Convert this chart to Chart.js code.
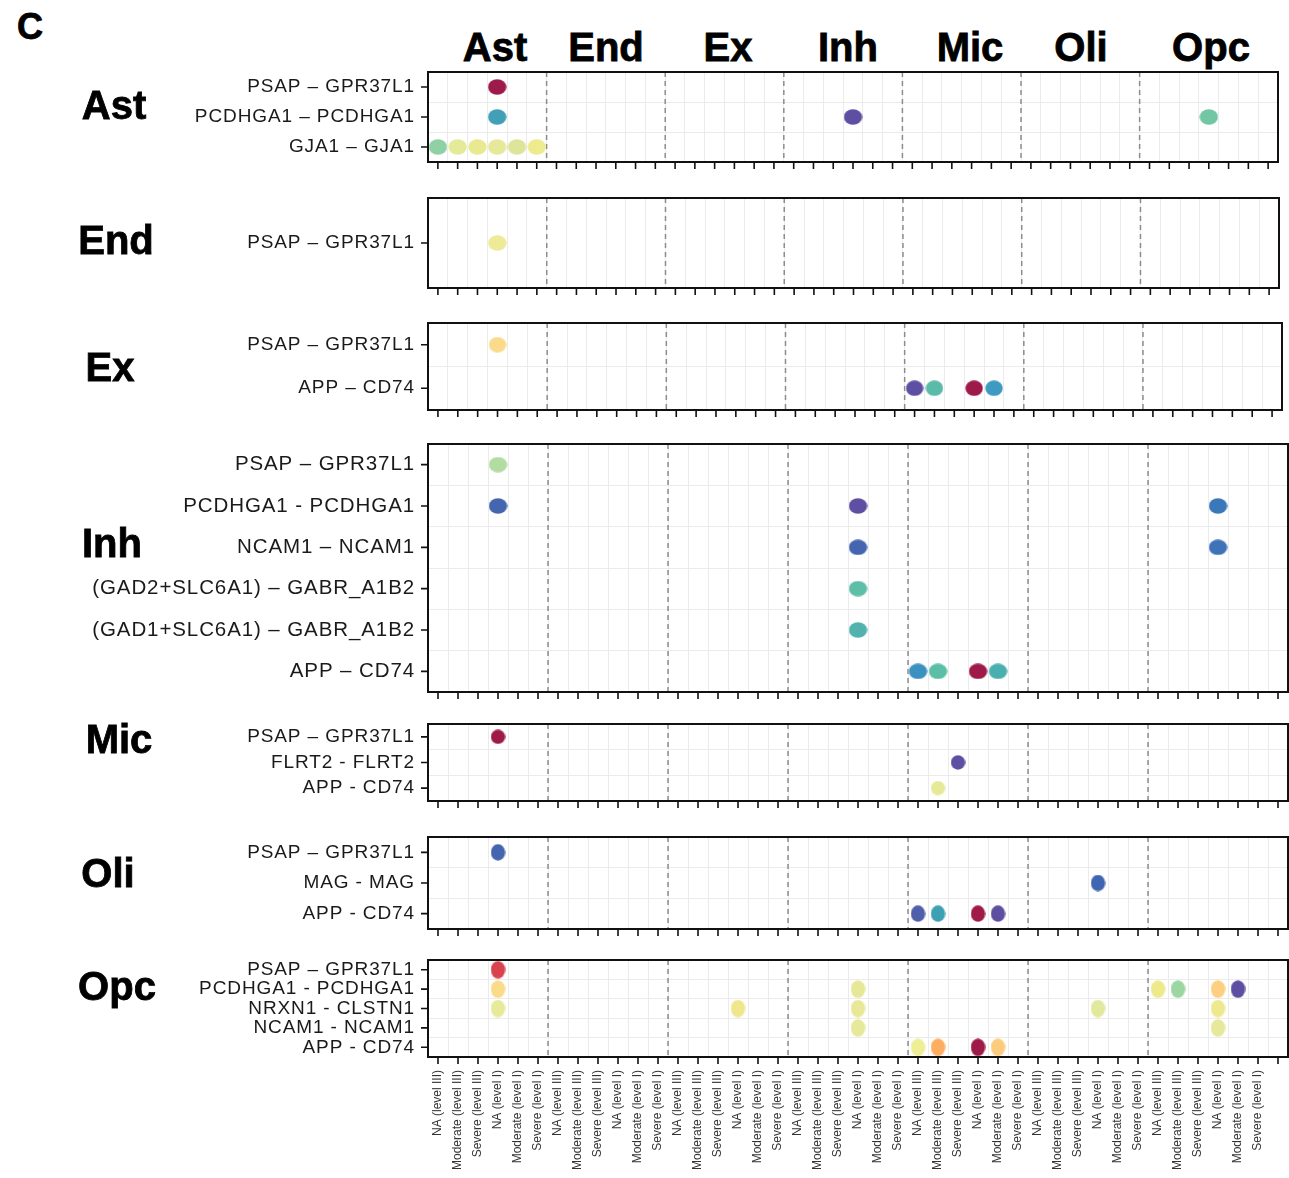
<!DOCTYPE html>
<html>
<head>
<meta charset="utf-8">
<script src="https://cdn.jsdelivr.net/npm/chart.js@4.4.1/dist/chart.umd.min.js"></script>
<style>
  body { margin: 0; background: #fff; }
  #wrap { position: relative; width: 1289px; height: 1178px; overflow: hidden; }
  .big { position: absolute; transform: translate(-50%, -50%); font-family: 'Liberation Sans', Arial, sans-serif;
         font-weight: bold; font-size: 40px; line-height: 1; color: #000; -webkit-text-stroke: 0.8px #000; white-space: nowrap; }
  .panel { position: absolute; left: 0; width: 1289px; }
</style>
</head>
<body>
<div id="wrap"></div>
<script>
document.addEventListener('DOMContentLoaded', () => {
    const wrap = document.getElementById('wrap');

    // x axis: 7 cell-type groups x 6 conditions (+ one empty slot at the end)
    const groups = ['Ast', 'End', 'Ex', 'Inh', 'Mic', 'Oli', 'Opc'];
    const conditions = ['NA (level III)', 'Moderate (level III)', 'Severe (level III)',
                        'NA (level I)', 'Moderate (level I)', 'Severe (level I)'];

    // rows and dots per sender panel: [row, receiver group, condition, colour]
    const astRows = ['PSAP – GPR37L1', 'PCDHGA1 – PCDHGA1', 'GJA1 – GJA1'];
    const astDots = [
        ['PSAP – GPR37L1', 'Ast', 'NA (level I)', '#9E1A4A'],
        ['PCDHGA1 – PCDHGA1', 'Ast', 'NA (level I)', '#419FB6'],
        ['PCDHGA1 – PCDHGA1', 'Inh', 'NA (level I)', '#5E4FA2'],
        ['PCDHGA1 – PCDHGA1', 'Opc', 'NA (level I)', '#72C6A3'],
        ['GJA1 – GJA1', 'Ast', 'NA (level III)', '#8FD1A5'],
        ['GJA1 – GJA1', 'Ast', 'Moderate (level III)', '#E4EA9A'],
        ['GJA1 – GJA1', 'Ast', 'Severe (level III)', '#E9E992'],
        ['GJA1 – GJA1', 'Ast', 'NA (level I)', '#E6E89A'],
        ['GJA1 – GJA1', 'Ast', 'Moderate (level I)', '#DDE59A'],
        ['GJA1 – GJA1', 'Ast', 'Severe (level I)', '#EEEA8E']
    ];

    const endRows = ['PSAP – GPR37L1'];
    const endDots = [
        ['PSAP – GPR37L1', 'Ast', 'NA (level I)', '#EEEA98']
    ];

    const exRows = ['PSAP – GPR37L1', 'APP – CD74'];
    const exDots = [
        ['PSAP – GPR37L1', 'Ast', 'NA (level I)', '#FBDB8B'],
        ['APP – CD74', 'Mic', 'NA (level III)', '#5E4FA2'],
        ['APP – CD74', 'Mic', 'Moderate (level III)', '#5BBAA8'],
        ['APP – CD74', 'Mic', 'NA (level I)', '#9E1A48'],
        ['APP – CD74', 'Mic', 'Moderate (level I)', '#3E9AC0']
    ];

    const inhRows = ['PSAP – GPR37L1', 'PCDHGA1 - PCDHGA1', 'NCAM1 – NCAM1',
                     '(GAD2+SLC6A1) – GABR_A1B2', '(GAD1+SLC6A1) – GABR_A1B2', 'APP – CD74'];
    const inhDots = [
        ['PSAP – GPR37L1', 'Ast', 'NA (level I)', '#B2DCA2'],
        ['PCDHGA1 - PCDHGA1', 'Ast', 'NA (level I)', '#4466AF'],
        ['PCDHGA1 - PCDHGA1', 'Inh', 'NA (level I)', '#5E4FA2'],
        ['PCDHGA1 - PCDHGA1', 'Opc', 'NA (level I)', '#3A78BA'],
        ['NCAM1 – NCAM1', 'Inh', 'NA (level I)', '#4466B0'],
        ['NCAM1 – NCAM1', 'Opc', 'NA (level I)', '#3E73B8'],
        ['(GAD2+SLC6A1) – GABR_A1B2', 'Inh', 'NA (level I)', '#5EBFA8'],
        ['(GAD1+SLC6A1) – GABR_A1B2', 'Inh', 'NA (level I)', '#52B3AE'],
        ['APP – CD74', 'Mic', 'NA (level III)', '#3B92C0'],
        ['APP – CD74', 'Mic', 'Moderate (level III)', '#5BBFA8'],
        ['APP – CD74', 'Mic', 'NA (level I)', '#9E1A48'],
        ['APP – CD74', 'Mic', 'Moderate (level I)', '#4BAFAF']
    ];

    const micRows = ['PSAP – GPR37L1', 'FLRT2 - FLRT2', 'APP - CD74'];
    const micDots = [
        ['PSAP – GPR37L1', 'Ast', 'NA (level I)', '#A01A48'],
        ['FLRT2 - FLRT2', 'Mic', 'Severe (level III)', '#5E4FA2'],
        ['APP - CD74', 'Mic', 'Moderate (level III)', '#E6EA98']
    ];

    const oliRows = ['PSAP – GPR37L1', 'MAG - MAG', 'APP - CD74'];
    const oliDots = [
        ['PSAP – GPR37L1', 'Ast', 'NA (level I)', '#4466AF'],
        ['MAG - MAG', 'Oli', 'NA (level I)', '#3F66B0'],
        ['APP - CD74', 'Mic', 'NA (level III)', '#4F5FAC'],
        ['APP - CD74', 'Mic', 'Moderate (level III)', '#3EA0B3'],
        ['APP - CD74', 'Mic', 'NA (level I)', '#A01A48'],
        ['APP - CD74', 'Mic', 'Moderate (level I)', '#5E4FA2']
    ];

    const opcRows = ['PSAP – GPR37L1', 'PCDHGA1 - PCDHGA1', 'NRXN1 - CLSTN1', 'NCAM1 - NCAM1', 'APP - CD74'];
    const opcDots = [
        ['PSAP – GPR37L1', 'Ast', 'NA (level I)', '#D8434E'],
        ['PCDHGA1 - PCDHGA1', 'Ast', 'NA (level I)', '#FADB8A'],
        ['PCDHGA1 - PCDHGA1', 'Inh', 'NA (level I)', '#E6E898'],
        ['PCDHGA1 - PCDHGA1', 'Opc', 'NA (level III)', '#EEEA8C'],
        ['PCDHGA1 - PCDHGA1', 'Opc', 'Moderate (level III)', '#9CD6A2'],
        ['PCDHGA1 - PCDHGA1', 'Opc', 'NA (level I)', '#FDCF80'],
        ['PCDHGA1 - PCDHGA1', 'Opc', 'Moderate (level I)', '#5E4FA2'],
        ['NRXN1 - CLSTN1', 'Ast', 'NA (level I)', '#E6EA9A'],
        ['NRXN1 - CLSTN1', 'Ex', 'NA (level I)', '#EFE78E'],
        ['NRXN1 - CLSTN1', 'Inh', 'NA (level I)', '#E8E898'],
        ['NRXN1 - CLSTN1', 'Oli', 'NA (level I)', '#E2E89C'],
        ['NRXN1 - CLSTN1', 'Opc', 'NA (level I)', '#EEE88E'],
        ['NCAM1 - NCAM1', 'Inh', 'NA (level I)', '#E6E89A'],
        ['NCAM1 - NCAM1', 'Opc', 'NA (level I)', '#E6E89A'],
        ['APP - CD74', 'Mic', 'NA (level III)', '#EEEE96'],
        ['APP - CD74', 'Mic', 'Moderate (level III)', '#FDAE61'],
        ['APP - CD74', 'Mic', 'NA (level I)', '#9E1A48'],
        ['APP - CD74', 'Mic', 'Moderate (level I)', '#FDCB7D']
    ];

    const panelNames = ['Ast', 'End', 'Ex', 'Inh', 'Mic', 'Oli', 'Opc'];
    const panelRows = [astRows, endRows, exRows, inhRows, micRows, oliRows, opcRows];
    const panelDots = [astDots, endDots, exDots, inhDots, micDots, oliDots, opcDots];

    // layout of each panel on the page (plot area edges, dot size)
    const boxes = [
        { top: 72,  bottom: 162,  right: 1278, dw: 19, dh: 16, font: 19, lx: 114, ly: 105 },
        { top: 198, bottom: 288,  right: 1279, dw: 19, dh: 16, font: 19, lx: 116, ly: 240 },
        { top: 323, bottom: 410,  right: 1282, dw: 18, dh: 16, font: 19, lx: 110, ly: 367 },
        { top: 444, bottom: 692,  right: 1288, dw: 19, dh: 16, font: 20.5, lx: 112, ly: 543 },
        { top: 724, bottom: 801,  right: 1288, dw: 15, dh: 15, font: 19, lx: 119, ly: 739 },
        { top: 837, bottom: 929,  right: 1288, dw: 15, dh: 17, font: 19, lx: 108, ly: 873 },
        { top: 960, bottom: 1057, right: 1288, dw: 15, dh: 18, font: 19, lx: 117, ly: 986 }
    ];
    const headerX = [495, 606, 728, 848, 970, 1081, 1211];

    const xKeys = [];
    groups.forEach(g => conditions.forEach(c => xKeys.push(g + '|' + c)));
    xKeys.push('end|');

    const addText = (txt, x, y, size) => {
        const d = document.createElement('div');
        d.className = 'big';
        d.textContent = txt;
        d.style.left = x + 'px';
        d.style.top = y + 'px';
        if (size) d.style.fontSize = size + 'px';
        wrap.appendChild(d);
    };
    addText('C', 30, 27, 36);
    groups.forEach((g, i) => addText(g, headerX[i], 47));

    const dotCache = {};
    const dot = (color, w, h) => {
        const key = color + w + 'x' + h;
        if (dotCache[key]) return dotCache[key];
        const c = document.createElement('canvas');
        c.width = w; c.height = h;
        const g = c.getContext('2d');
        g.fillStyle = color;
        g.beginPath();
        g.ellipse(w / 2, h / 2, w / 2 - 0.3, h / 2 - 0.3, 0, 0, Math.PI * 2);
        g.fill();
        dotCache[key] = c;
        return c;
    };

    // frame, dashed group separators and tick marks
    const panelDecor = {
        id: 'panelDecor',
        beforeDatasetsDraw(chart) {
            const { ctx, chartArea: a, scales: { x } } = chart;
            ctx.save();
            ctx.strokeStyle = '#8c8c8c';
            ctx.lineWidth = 1.5;
            ctx.setLineDash([5, 4]);
            for (let g = 1; g < groups.length; g++) {
                const px = x.getPixelForValue(g * conditions.length - 0.5);
                ctx.beginPath();
                ctx.moveTo(px, a.top);
                ctx.lineTo(px, a.bottom);
                ctx.stroke();
            }
            ctx.restore();
        },
        afterDatasetsDraw(chart) {
            chart.ctx.letterSpacing = '0.9px';
        },
        afterDraw(chart) {
            const { ctx, chartArea: a, scales: { x, y } } = chart;
            ctx.letterSpacing = '0px';
            ctx.save();
            ctx.strokeStyle = '#111';
            ctx.lineWidth = 2;
            ctx.strokeRect(a.left, a.top, a.right - a.left, a.bottom - a.top);
            ctx.lineWidth = 1.6;
            ctx.beginPath();
            x.ticks.forEach((t, i) => {
                const px = x.getPixelForTick(i);
                ctx.moveTo(px, a.bottom);
                ctx.lineTo(px, a.bottom + 7);
            });
            y.ticks.forEach((t, i) => {
                const py = y.getPixelForTick(i);
                ctx.moveTo(a.left - 7, py);
                ctx.lineTo(a.left, py);
            });
            ctx.stroke();
            ctx.restore();
        }
    };

    panelNames.forEach((name, p) => {
        const b = boxes[p];
        const last = p === panelNames.length - 1;
        const padTop = 8;
        const xh = last ? 1178 - b.bottom : 10;
        const div = document.createElement('div');
        div.className = 'panel';
        div.style.top = (b.top - padTop) + 'px';
        div.style.height = (b.bottom - b.top + padTop + xh) + 'px';
        const canvas = document.createElement('canvas');
        div.appendChild(canvas);
        wrap.appendChild(div);

        const dots = panelDots[p];
        const colors = dots.map(d => d[3]);

        new Chart(canvas.getContext('2d'), {
            type: 'scatter',
            data: {
                datasets: [{
                    data: dots.map(d => ({ x: d[1] + '|' + d[2], y: d[0] })),
                    pointStyle: (c) => dot(colors[c.dataIndex] || '#000', b.dw, b.dh),
                    backgroundColor: colors,
                    borderWidth: 0
                }]
            },
            options: {
                responsive: true,
                maintainAspectRatio: false,
                animation: false,
                layout: {
                    autoPadding: false,
                    padding: { top: padTop, right: 1289 - b.right, left: 0, bottom: 0 }
                },
                plugins: { legend: { display: false }, tooltip: { enabled: false } },
                scales: {
                    x: {
                        type: 'category',
                        labels: xKeys,
                        offset: true,
                        grid: { offset: true, color: '#EBEBEB', lineWidth: 1, drawTicks: false },
                        border: { display: false },
                        ticks: {
                            display: last,
                            autoSkip: false,
                            maxRotation: 90,
                            minRotation: 90,
                            padding: 13,
                            color: '#333',
                            font: { family: "'Liberation Sans', Arial, sans-serif", size: 12 },
                            callback: function (v) {
                                return this.getLabelForValue(v).split('|')[1] || '';
                            }
                        },
                        afterFit: (s) => {
                            s.height = xh;
                            s.paddingLeft = 0;
                            s.paddingRight = 0;
                        }
                    },
                    y: {
                        type: 'category',
                        labels: panelRows[p],
                        offset: true,
                        grid: { offset: true, color: '#EBEBEB', lineWidth: 1, drawTicks: false },
                        border: { display: false },
                        ticks: {
                            autoSkip: false,
                            padding: 13,
                            z: 1,
                            color: '#1a1a1a',
                            font: { family: "'Liberation Sans', Arial, sans-serif", size: b.font }
                        },
                        afterFit: (s) => {
                            s.width = 428;
                            s.paddingTop = 0;
                            s.paddingBottom = 0;
                        }
                    }
                }
            },
            plugins: [panelDecor]
        });

        addText(name, b.lx, b.ly);
    });
});
</script>
</body>
</html>
